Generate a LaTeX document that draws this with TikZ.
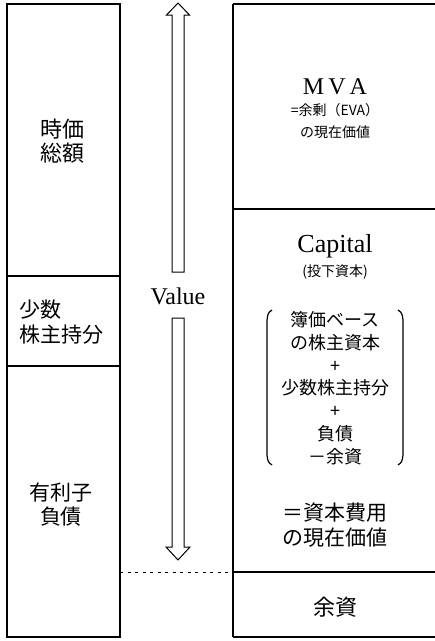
\documentclass[tikz,border=0pt]{standalone}
\usepackage{fontspec}
\setmainfont{Liberation Serif}
\newfontfamily\jp{Noto Sans CJK JP}
\newcommand{\fs}[2]{\fontsize{#1}{#2}\selectfont}
\begin{document}
\begin{tikzpicture}[x=1pt,y=-1pt,
  boxline/.style={line width=1.3pt},
  arrowline/.style={line width=1pt, line join=miter},
  txt/.style={align=center, inner sep=0pt},
  dashline/.style={line width=1pt, dash pattern=on 3pt off 4.5pt}]
\useasboundingbox (0,0) rectangle (435,641);
% left column
\coordinate (ltl) at (7,4);
\coordinate (lbr) at (120,637);
\draw[boxline] (ltl) rectangle (lbr);
\draw[boxline] (7,276) -- (120,276);
\draw[boxline] (7,366) -- (120,366);
\coordinate (dashL) at (120,572);
% right column
\draw[boxline] (435,4) -- (233,4);
\draw[line width=1.8pt] (233,4) -- (233,637);
\draw[boxline] (233,637) -- (435,637);
\draw[boxline] (233,209) -- (435,209);
\coordinate (dashR) at (233,572);
\draw[boxline] (dashR) -- (435,572);
\draw[dashline] (dashL) -- (dashR);
% left texts
\node[txt, font=\jp\fs{22}{24}] (jika) at (63,141) {時価\\総額};
\node[txt, font=\jp\fs{21}{25}, align=left, anchor=west] (shosu) at (19,322) {少数\\株主持分};
\node[txt, font=\jp\fs{21}{24}] (yuri) at (61,505) {有利子\\負債};
% arrows
\node[txt, font=\fs{24}{26}] (value) at (178,296) {Value};
\coordinate (uptip) at (178,3);
\coordinate (dntip) at (178,560);
\draw[arrowline] (uptip) -- ++(11.5,12) -- ++(-5.5,0) -- ++(0,257) -- ++(-12,0) -- ++(0,-257) -- ++(-5.5,0) -- cycle;
\draw[arrowline] (dntip) -- ++(12,-13) -- ++(-6,0) -- ++(0,-229) -- ++(-12,0) -- ++(0,229) -- ++(-6,0) -- cycle;
% right texts
\node[txt, font=\fs{24}{26}] (mva) at (335,87) {M\,V\,A};
\node[txt, font=\jp\fs{14}{22}] (mvadef) at (335,121) {=余剰（EVA）\\の現在価値};
\node[txt, font=\fs{26}{28}] (cap) at (335,246) {Capital};
\node[txt, font=\jp\fs{14}{16}] (toka) at (335,272) {(投下資本)};
\node[txt, font=\jp\fs{18}{22.8}] (capdef) at (335,388) {簿価ベース\\の株主資本\\+\\少数株主持分\\+\\負債\\－余資};
\draw[arrowline, line width=1.2pt] (272,310) .. controls (268,313) .. (267,320) -- (267,455) .. controls (268,462) .. (272,465);
\draw[arrowline, line width=1.2pt] (398,310) .. controls (402,313) .. (403,320) -- (403,455) .. controls (402,462) .. (398,465);
\node[txt, font=\jp\fs{21}{25}] (cost) at (335,525) {＝資本費用\\の現在価値};
\node[txt, font=\jp\fs{22}{24}] (yoshi) at (335,607) {余資};
\end{tikzpicture}
\end{document}
